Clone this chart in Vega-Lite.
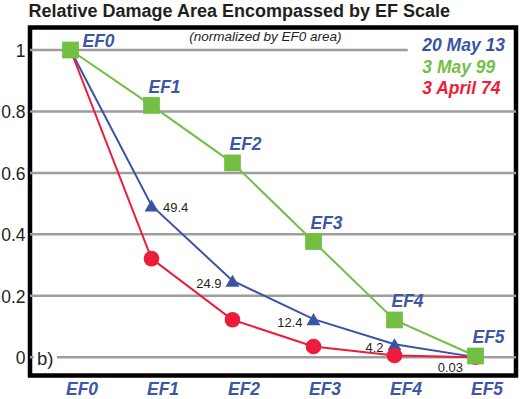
{
  "$schema": "https://vega.github.io/schema/vega-lite/v6.json",
  "width": 486,
  "height": 348,
  "autosize": {"type": "none"},
  "padding": {"left": 30, "top": 27.5, "right": 5, "bottom": 23.5},
  "background": "white",
  "config": {
    "view": {"stroke": "black", "strokeWidth": 4.5},
    "font": "Liberation Sans",
    "text": {"font": "Liberation Sans"}
  },
  "title": {
    "text": "Relative Damage Area Encompassed by EF Scale",
    "anchor": "start",
    "frame": "group",
    "font": "Liberation Sans",
    "fontSize": 18,
    "fontWeight": "bold",
    "color": "#231f20",
    "offset": 7,
    "dx": -1.5
  },
  "datasets": {
    "main": [
      {"s": "20 May 13", "n": 0, "ef": "EF0", "v": 1},
      {"s": "20 May 13", "n": 1, "ef": "EF1", "v": 0.494, "lbl": "49.4"},
      {"s": "20 May 13", "n": 2, "ef": "EF2", "v": 0.249, "lbl": "24.9"},
      {"s": "20 May 13", "n": 3, "ef": "EF3", "v": 0.124, "lbl": "12.4"},
      {"s": "20 May 13", "n": 4, "ef": "EF4", "v": 0.042, "lbl": "4.2"},
      {"s": "20 May 13", "n": 5, "ef": "EF5", "v": 0.0003, "lbl": "0.03"},
      {"s": "3 April 74", "n": 0, "ef": "EF0", "v": 1},
      {"s": "3 April 74", "n": 1, "ef": "EF1", "v": 0.321},
      {"s": "3 April 74", "n": 2, "ef": "EF2", "v": 0.122},
      {"s": "3 April 74", "n": 3, "ef": "EF3", "v": 0.035},
      {"s": "3 April 74", "n": 4, "ef": "EF4", "v": 0.0055},
      {"s": "3 April 74", "n": 5, "ef": "EF5", "v": 0},
      {"s": "3 May 99", "n": 0, "ef": "EF0", "v": 1},
      {"s": "3 May 99", "n": 1, "ef": "EF1", "v": 0.8195},
      {"s": "3 May 99", "n": 2, "ef": "EF2", "v": 0.6325},
      {"s": "3 May 99", "n": 3, "ef": "EF3", "v": 0.3766},
      {"s": "3 May 99", "n": 4, "ef": "EF4", "v": 0.1213},
      {"s": "3 May 99", "n": 5, "ef": "EF5", "v": 0.004}
    ],
    "grid": [{"v": 0.2}, {"v": 0.4}, {"v": 0.6}, {"v": 0.8}],
    "one": [{"v": 1}],
    "zero": [{"v": 0}]
  },
  "layer": [
    {
      "data": {"name": "main"},
      "encoding": {
        "x": {
          "field": "n",
          "type": "quantitative",
          "title": null,
          "scale": {"domain": [-0.5, 5.5], "nice": false, "zero": false},
          "axis": {
            "values": [0, 1, 2, 3, 4, 5],
            "labelExpr": "'EF' + datum.value",
            "domain": false,
            "ticks": false,
            "tickSize": 0,
            "grid": false,
            "labelFont": "Liberation Sans",
            "labelFontSize": 17.5,
            "labelFontStyle": "italic",
            "labelFontWeight": "bold",
            "labelColor": "#3d56a6",
            "labelPadding": 19,
            "labelBaseline": "alphabetic",
            "labelOffset": 11,
            "labelFlush": false,
            "labelOverlap": false
          }
        },
        "y": {
          "field": "v",
          "type": "quantitative",
          "title": null,
          "scale": {"domain": [-0.0595, 1.0732], "nice": false, "zero": false},
          "axis": {
            "values": [0, 0.2, 0.4, 0.6, 0.8, 1],
            "labelExpr": "'' + datum.value",
            "domain": false,
            "ticks": false,
            "tickSize": 0,
            "grid": false,
            "labelFont": "Liberation Sans",
            "labelFontSize": 17.5,
            "labelColor": "#231f20",
            "labelPadding": 5,
            "labelBaseline": "middle",
            "labelOffset": 1.5,
            "labelFlush": false,
            "labelOverlap": false
          }
        }
      },
      "mark": {"type": "point", "opacity": 0, "size": 1}
    },
    {
      "data": {"name": "grid"},
      "mark": {"type": "rule", "stroke": "#9d9d9d", "strokeWidth": 2.5},
      "encoding": {
        "y": {"field": "v", "type": "quantitative", "title": null}
      }
    },
    {
      "data": {"name": "one"},
      "mark": {"type": "rule", "stroke": "#9d9d9d", "strokeWidth": 2.5},
      "encoding": {
        "y": {"field": "v", "type": "quantitative", "title": null},
        "x": {"datum": -0.5, "type": "quantitative", "title": null},
        "x2": {"datum": 4.164}
      }
    },
    {
      "data": {"name": "zero"},
      "mark": {"type": "rule", "stroke": "#9d9d9d", "strokeWidth": 2.5},
      "encoding": {
        "y": {"field": "v", "type": "quantitative", "title": null},
        "x": {"datum": -0.5, "type": "quantitative", "title": null},
        "x2": {"datum": -0.453}
      }
    },
    {
      "data": {"name": "zero"},
      "mark": {"type": "rule", "stroke": "#9d9d9d", "strokeWidth": 2.5},
      "encoding": {
        "y": {"field": "v", "type": "quantitative", "title": null},
        "x": {"datum": -0.167, "type": "quantitative", "title": null},
        "x2": {"datum": 5.5}
      }
    },
    {
      "data": {"name": "main"},
      "encoding": {
        "x": {"field": "n", "type": "quantitative", "title": null},
        "y": {"field": "v", "type": "quantitative", "title": null}
      },
      "layer": [
        {
          "mark": {"type": "line", "strokeWidth": 2},
          "encoding": {
            "color": {
              "field": "s",
              "type": "nominal",
              "scale": {"domain": ["20 May 13", "3 April 74", "3 May 99"], "range": ["#3a54a4", "#ed1c3a", "#72bf44"]},
              "legend": null
            }
          }
        },
        {
          "transform": [{"filter": "datum.s == '20 May 13'"}],
          "mark": {"type": "point", "shape": "triangle-up", "size": 195, "filled": true, "fill": "#3a54a4", "opacity": 1, "strokeWidth": 0}
        },
        {
          "transform": [{"filter": "datum.s == '3 April 74'"}],
          "mark": {"type": "point", "shape": "circle", "size": 245, "filled": true, "fill": "#ed1c3a", "opacity": 1, "strokeWidth": 0}
        },
        {
          "transform": [{"filter": "datum.s == '3 May 99'"}],
          "mark": {"type": "point", "shape": "square", "size": 280, "filled": true, "fill": "#72bf44", "opacity": 1, "strokeWidth": 0}
        },
        {
          "transform": [{"filter": "datum.s == '3 May 99' && datum.n > 0"}],
          "mark": {"type": "text", "align": "left", "baseline": "alphabetic", "dx": -3, "dy": -12.5, "fontSize": 17.5, "fontStyle": "italic", "fontWeight": "bold", "fill": "#3d56a6"},
          "encoding": {"text": {"field": "ef"}}
        },
        {
          "transform": [{"filter": "datum.s == '3 May 99' && datum.n == 0"}],
          "mark": {"type": "text", "align": "left", "baseline": "alphabetic", "dx": 12, "dy": -3.3, "fontSize": 17.5, "fontStyle": "italic", "fontWeight": "bold", "fill": "#3d56a6"},
          "encoding": {"text": {"field": "ef"}}
        },
        {
          "transform": [{"filter": "datum.s == '20 May 13' && datum.n == 1"}],
          "mark": {"type": "text", "align": "left", "baseline": "alphabetic", "dx": 11.5, "dy": 6.2, "fontSize": 13, "fill": "#231f20"},
          "encoding": {"text": {"field": "lbl"}}
        },
        {
          "transform": [{"filter": "datum.s == '20 May 13' && datum.n >= 2 && datum.n <= 4"}],
          "mark": {"type": "text", "align": "right", "baseline": "alphabetic", "dx": -11, "dy": 7.5, "fontSize": 13, "fill": "#231f20"},
          "encoding": {"text": {"field": "lbl"}}
        },
        {
          "transform": [{"filter": "datum.s == '20 May 13' && datum.n == 5"}],
          "mark": {"type": "text", "align": "right", "baseline": "alphabetic", "dx": -12.5, "dy": 15.3, "fontSize": 13, "fill": "#231f20"},
          "encoding": {"text": {"field": "lbl"}}
        }
      ]
    },
    {
      "data": {"name": "one"},
      "mark": {"type": "text", "align": "center", "baseline": "alphabetic", "fontSize": 13.5, "fontStyle": "italic", "fill": "#231f20", "text": "(normalized by EF0 area)"},
      "encoding": {
        "x": {"datum": 2.405, "type": "quantitative", "title": null},
        "y": {"datum": 1.029, "type": "quantitative", "title": null}
      }
    },
    {
      "data": {"name": "one"},
      "mark": {"type": "text", "align": "left", "baseline": "alphabetic", "fontSize": 17.5, "fontStyle": "italic", "fontWeight": "bold", "fill": "#3a54a4", "text": "20 May 13"},
      "encoding": {
        "x": {"datum": 4.343, "type": "quantitative", "title": null},
        "y": {"datum": 0.9967, "type": "quantitative", "title": null}
      }
    },
    {
      "data": {"name": "one"},
      "mark": {"type": "text", "align": "left", "baseline": "alphabetic", "fontSize": 17.5, "fontStyle": "italic", "fontWeight": "bold", "fill": "#72bf44", "text": "3 May 99"},
      "encoding": {
        "x": {"datum": 4.343, "type": "quantitative", "title": null},
        "y": {"datum": 0.924, "type": "quantitative", "title": null}
      }
    },
    {
      "data": {"name": "one"},
      "mark": {"type": "text", "align": "left", "baseline": "alphabetic", "fontSize": 17.5, "fontStyle": "italic", "fontWeight": "bold", "fill": "#ed1c3a", "text": "3 April 74"},
      "encoding": {
        "x": {"datum": 4.343, "type": "quantitative", "title": null},
        "y": {"datum": 0.857, "type": "quantitative", "title": null}
      }
    },
    {
      "data": {"name": "one"},
      "mark": {"type": "text", "align": "left", "baseline": "alphabetic", "fontSize": 18.5, "fill": "#231f20", "text": "b)"},
      "encoding": {
        "x": {"datum": -0.4136, "type": "quantitative", "title": null},
        "y": {"datum": -0.0244, "type": "quantitative", "title": null}
      }
    }
  ]
}
